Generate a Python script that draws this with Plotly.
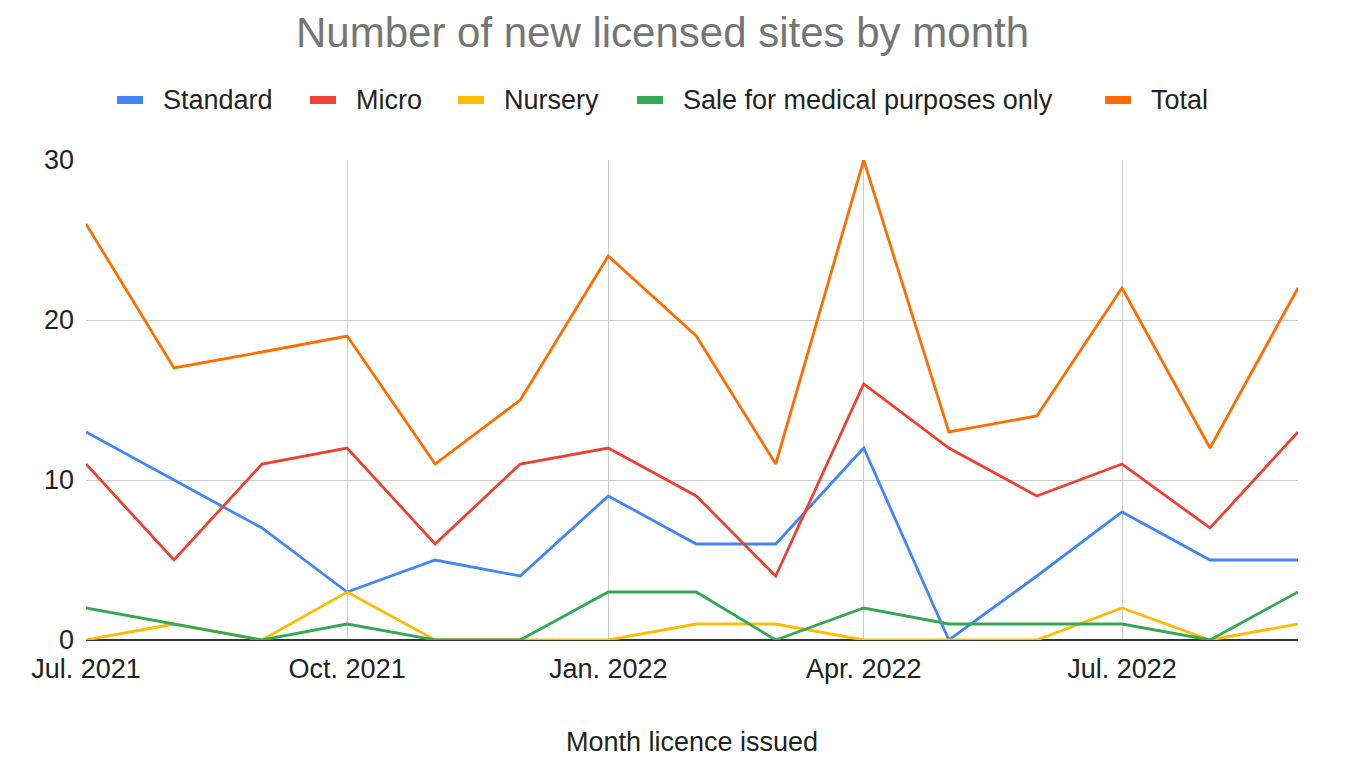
import plotly.graph_objects as go

months = [
    "2021-07-01", "2021-08-01", "2021-09-01", "2021-10-01", "2021-11-01",
    "2021-12-01", "2022-01-01", "2022-02-01", "2022-03-01", "2022-04-01",
    "2022-05-01", "2022-06-01", "2022-07-01", "2022-08-01", "2022-09-01",
]
standard = [13, 10, 7, 3, 5, 4, 9, 6, 6, 12, 0, 4, 8, 5, 5]
micro = [11, 5, 11, 12, 6, 11, 12, 9, 4, 16, 12, 9, 11, 7, 13]
nursery = [0, 1, 0, 3, 0, 0, 0, 1, 1, 0, 0, 0, 2, 0, 1]
medical = [2, 1, 0, 1, 0, 0, 3, 3, 0, 2, 1, 1, 1, 0, 3]
total = [26, 17, 18, 19, 11, 15, 24, 19, 11, 30, 13, 14, 22, 12, 22]

tick_vals = ["2021-07-01", "2021-10-01", "2022-01-01", "2022-04-01", "2022-07-01"]
tick_text = ["Jul. 2021", "Oct. 2021", "Jan. 2022", "Apr. 2022", "Jul. 2022"]

series = [
    ("Standard", standard, "#4285f4"),
    ("Micro", micro, "#ea4335"),
    ("Nursery", nursery, "#fbbc04"),
    ("Sale for medical purposes only", medical, "#34a853"),
    ("Total", total, "#ff6d01"),
]

FONT = "Liberation Sans, Arial, sans-serif"
TXT = 27
# plot area in page pixels (left, right, top, bottom)
PX0, PX1, PY0, PY1 = 86, 1298, 160, 640
# legend: x of each swatch (page px), text follows after it
legend_x = [117, 310, 458, 637, 1105]
legend_y = 100


def px_x(x):
    return (x - PX0) / (PX1 - PX0)


def px_y(y):
    return (PY1 - y) / (PY1 - PY0)


fig = go.Figure()
for name, vals, color in series:
    fig.add_trace(
        go.Scatter(
            x=months,
            y=vals,
            name=name,
            mode="lines",
            line={"color": color, "width": 2.8},
        )
    )

# hand-built legend, Sheets style (wide gaps, thick swatches)
for (name, _, color), lx in zip(series, legend_x):
    fig.add_shape(
        type="rect",
        xref="paper", yref="paper",
        x0=px_x(lx), x1=px_x(lx + 26),
        y0=px_y(legend_y + 4), y1=px_y(legend_y - 4),
        fillcolor=color, line={"width": 0},
    )
    fig.add_annotation(
        text=name,
        xref="paper", yref="paper",
        x=px_x(lx + 44), y=px_y(legend_y),
        xanchor="left", yanchor="middle",
        showarrow=False,
        font=dict(family=FONT, size=TXT, color="#222222"),
    )

# title as an annotation so it sits fully inside the page
fig.add_annotation(
    text="Number of new licensed sites by month",
    xref="paper", yref="paper",
    x=px_x(662.5), y=px_y(33),
    xanchor="center", yanchor="middle",
    showarrow=False,
    font=dict(family=FONT, size=42, color="#757575"),
)

fig.update_layout(
    width=1366,
    height=768,
    paper_bgcolor="white",
    plot_bgcolor="white",
    font=dict(family=FONT, size=TXT, color="#222222"),
    margin=dict(l=78, r=76, t=152, b=136),
    showlegend=False,
)
fig.update_xaxes(
    type="date",
    range=["2021-07-01", "2022-09-01"],
    tickvals=tick_vals,
    ticktext=tick_text,
    showgrid=True,
    gridcolor="#cccccc",
    gridwidth=1,
    zeroline=False,
    showline=False,
    ticks="",
    ticklabelstandoff=10,
    tickfont=dict(size=TXT),
    title=dict(text="Month licence issued", font=dict(size=TXT), standoff=49),
)
fig.update_yaxes(
    range=[0, 30],
    tickvals=[0, 10, 20, 30],
    showgrid=True,
    gridcolor="#cccccc",
    gridwidth=1,
    zeroline=True,
    zerolinecolor="#333333",
    zerolinewidth=1.5,
    ticks="",
    ticklabelstandoff=11,
    tickfont=dict(size=TXT),
)

fig.write_html("out.html")
